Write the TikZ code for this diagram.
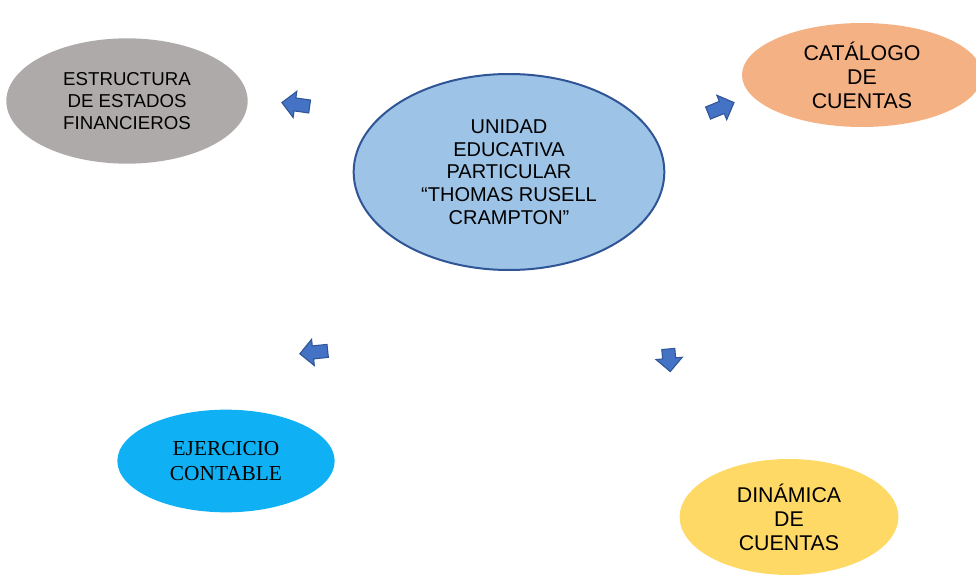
\documentclass[tikz,border=0pt]{standalone}
\usepackage{fontspec}
\setmainfont{Liberation Sans}
\newfontfamily\romana{Liberation Serif}
\usetikzlibrary{shapes.geometric,shapes.arrows}
\definecolor{gris}{HTML}{AEAAAA}
\definecolor{azulcentro}{HTML}{9DC3E6}
\definecolor{bordeazul}{HTML}{2F5597}
\definecolor{naranja}{HTML}{F4B183}
\definecolor{celeste}{HTML}{10B0F4}
\definecolor{amarillo}{HTML}{FFD966}
\definecolor{flecha}{HTML}{4472C4}
\begin{document}
\begin{tikzpicture}[x=0.75pt, y=-0.75pt,
        burbuja/.style={ellipse, align=center, inner sep=0pt},
        grande/.style={font=\fontsize{16}{18}\selectfont},
        flechita/.style={single arrow, draw=bordeazul, fill=flecha, line width=0.8pt, inner xsep=0pt, inner ysep=4.5pt,
                         minimum height=21pt, minimum width=19pt, single arrow head extend=5pt}
    ]
    \useasboundingbox (0,0) rectangle (976,575);
    % centro
    \node[burbuja, fill=azulcentro, draw=bordeazul, line width=1.5pt, minimum width=233pt, minimum height=147pt,
          font=\fontsize{15}{17}\selectfont] (unidad) at (509,172)
        {UNIDAD\\EDUCATIVA\\PARTICULAR\\``THOMAS RUSELL\\CRAMPTON''};
    % temas alrededor
    \node[burbuja, fill=gris, minimum width=181pt, minimum height=94pt, font=\fontsize{14}{16.5}\selectfont] (estructura) at (127,101)
        {ESTRUCTURA\\DE ESTADOS\\FINANCIEROS};
    \node[burbuja, grande, fill=naranja, minimum width=180pt, minimum height=78pt] (catalogo) at (862,75)
        {CATÁLOGO\\DE\\CUENTAS};
    \node[burbuja, fill=celeste, minimum width=163pt, minimum height=77pt, font=\romana\fontsize{16}{18.75}\selectfont] (ejercicio) at (226,461)
        {EJERCICIO\\CONTABLE};
    \node[burbuja, grande, fill=amarillo, minimum width=164pt, minimum height=87pt] (dinamica) at (789,517)
        {DINÁMICA\\DE\\CUENTAS};
    % flechas
    \node[flechita, rotate=172] (fl1) at (299,105) {};
    \node[flechita, rotate=22] (fl2) at (718,109) {};
    \node[flechita, rotate=186] (fl3) at (317,352) {};
    \node[flechita, rotate=-85, minimum height=17pt] (fl4) at (669,357) {};
\end{tikzpicture}
\end{document}
